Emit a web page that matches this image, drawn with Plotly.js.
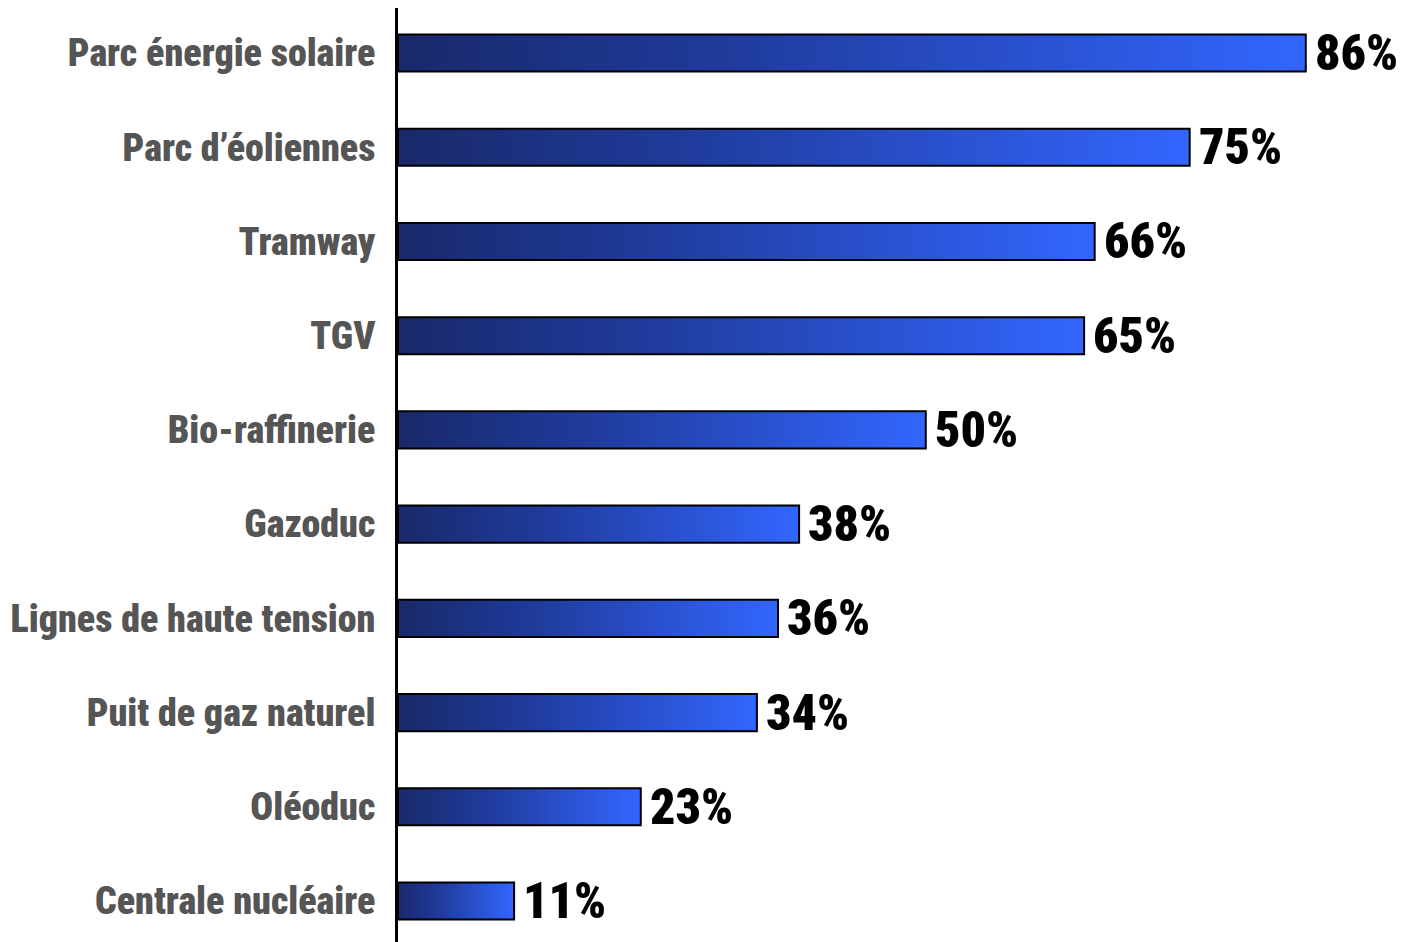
<!DOCTYPE html>
<html>
<head>
<meta charset="utf-8">
<script src="https://cdn.plot.ly/plotly-3.0.1.min.js"></script>
<style>html,body{margin:0;padding:0;background:#fff;}#chart{width:1405px;height:942px;}</style>
</head>
<body>
<div id="chart"></div>
<script>
const categories = ["Parc énergie solaire", "Parc d’éoliennes", "Tramway", "TGV", "Bio-raffinerie", "Gazoduc", "Lignes de haute tension", "Puit de gaz naturel", "Oléoduc", "Centrale nucléaire"];
const values = [86, 75, 66, 65, 50, 38, 36, 34, 23, 11];
const valueLabels = ["86%", "75%", "66%", "65%", "50%", "38%", "36%", "34%", "23%", "11%"];

const half = 0.197;
const FONT = "Roboto Condensed, Roboto, sans-serif";

const traces = values.map((v, i) => ({
  type: 'scatter',
  mode: 'lines',
  x: [0, v, v, 0, 0],
  y: [i - half, i - half, i + half, i + half, i - half],
  fill: 'toself',
  fillgradient: {type: 'horizontal', colorscale: [[0, '#19296a'], [0.35, '#1f3a9a'], [1, '#3366ff']]},
  line: {color: '#000000', width: 2},
  hoverinfo: 'skip',
  showlegend: false
}));

const annotations = values.map((v, i) => ({
  x: v, y: i, xref: 'x', yref: 'y',
  text: valueLabels[i],
  showarrow: false,
  xanchor: 'left', yanchor: 'middle',
  xshift: 7,
  font: {family: FONT, size: 50, color: '#000000', weight: 900}
}));

const layout = {
  width: 1405, height: 942,
  margin: {l: 398, r: 0, t: 8, b: 0, pad: 0},
  paper_bgcolor: '#ffffff', plot_bgcolor: '#ffffff',
  showlegend: false,
  xaxis: {range: [0, 95.4], visible: false, showgrid: false, zeroline: false, fixedrange: true},
  yaxis: {
    range: [categories.length - 1 + 0.435, -0.478],
    tickvals: categories.map((c, i) => i),
    ticktext: categories,
    showgrid: false, zeroline: false,
    showline: true, linecolor: '#000000', linewidth: 3,
    ticks: '', ticklabelstandoff: 12,
    tickfont: {family: FONT, size: 38, color: '#555555', weight: 900},
    fixedrange: true
  },
  annotations: annotations
};

Plotly.newPlot('chart', traces, layout, {displayModeBar: false, staticPlot: true});
</script>
</body>
</html>
